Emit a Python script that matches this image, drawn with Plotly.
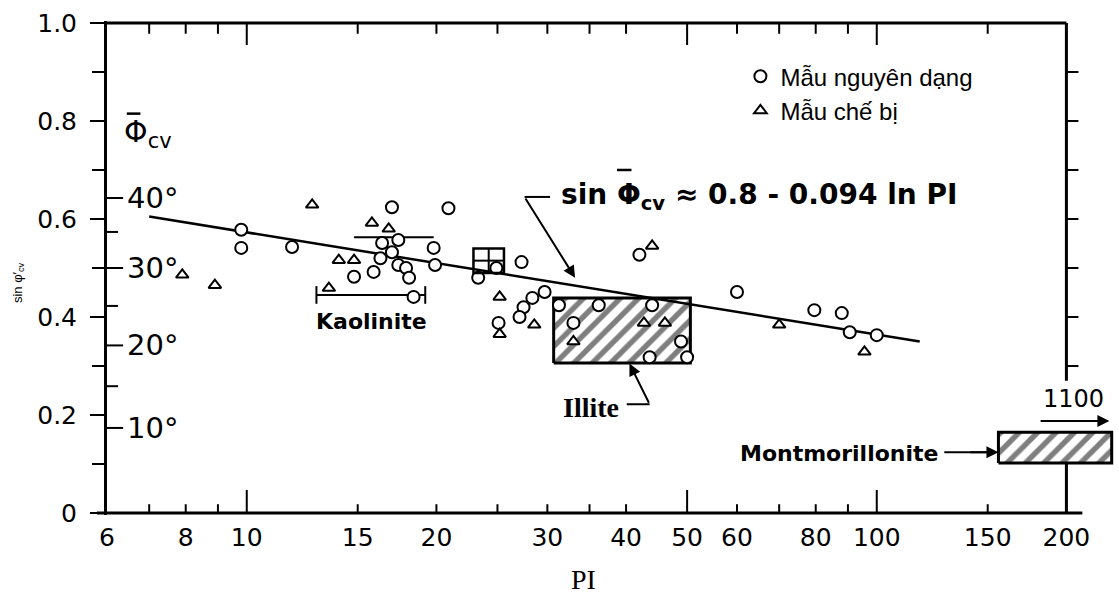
import numpy as np
import plotly.graph_objects as go

# ---------------- data ----------------
undisturbed_pi = [9.8, 9.8, 11.8, 17.0, 20.9, 16.4, 17.4, 17.0, 16.3, 17.4, 17.9, 18.1, 15.9, 14.8,
                  19.8, 19.9, 18.4, 23.3, 24.9, 27.3, 25.1, 29.7, 28.4, 27.5, 27.1, 31.3, 36.2, 33.0,
                  44.0, 48.9, 43.6, 50.0, 42.0, 60.0, 79.6, 88.0, 90.6, 100.0]
undisturbed_sin = [0.578, 0.541, 0.543, 0.624, 0.622, 0.551, 0.557, 0.532, 0.520, 0.506, 0.500, 0.480,
                   0.492, 0.482, 0.541, 0.506, 0.441, 0.480, 0.500, 0.512, 0.388, 0.451, 0.439, 0.420,
                   0.400, 0.424, 0.424, 0.388, 0.424, 0.350, 0.318, 0.318, 0.527, 0.451, 0.414, 0.408,
                   0.369, 0.363]
remoulded_pi = [7.9, 8.9, 12.7, 15.8, 16.8, 14.0, 14.8, 13.5, 25.2, 25.2, 28.6, 33.0, 42.7, 46.1,
                44.0, 70.0, 95.6]
remoulded_sin = [0.486, 0.465, 0.629, 0.592, 0.580, 0.516, 0.516, 0.459, 0.441, 0.365, 0.384, 0.350,
                 0.388, 0.388, 0.545, 0.384, 0.329]

fit_pi = [7.0, 117.0]
fit_sin = [0.605, 0.350]

kaolinite_pi = [12.9, 19.2]
kaolinite_sin = [0.445, 0.445]
kaolinite_upper_pi = [14.8, 19.8]
kaolinite_upper_sin = [0.563, 0.563]
grid_box_pi = [22.9, 25.6]
grid_box_sin = [0.49, 0.54]

illite_pi = [30.7, 50.6]
illite_sin = [0.306, 0.439]
mont_pi = [156.0, 236.0]
mont_sin = [0.102, 0.165]

x_tick_vals = [6, 8, 10, 15, 20, 30, 40, 50, 60, 80, 100, 150, 200]
x_tick_text = ["6", "8", "10", "15", "20", "30", "40", "50", "60", "80", "100", "150", "200"]
x_short_ticks = [7, 8, 9, 15, 20, 25, 30, 35, 40, 60, 70, 80, 90, 150]
x_long_ticks = [10, 50, 100]
y_tick_vals = [0, 0.2, 0.4, 0.6, 0.8, 1.0]
y_tick_text = ["0", "0.2", "0.4", "0.6", "0.8", "1.0"]
y_minor_vals = [0.1, 0.3, 0.5, 0.7, 0.9]
right_tick_vals = [0.3, 0.4, 0.5, 0.6, 0.7, 0.8, 0.9]
deg_major = [10, 20, 30, 40]
deg_minor = [15, 25, 35]

# ---------------- geometry helpers ----------------
X0, X1 = np.log10(6), np.log10(238)
Y0, Y1 = -0.004, 1.004
def xp(v):
    return (np.log10(v) - X0) / (X1 - X0)
def yp(v):
    return (v - Y0) / (Y1 - Y0)
lx = np.log10

fig = go.Figure()

# hatched boxes
def hatched_box(xs, ys, size):
    fig.add_trace(go.Scatter(
        x=[xs[0], xs[1], xs[1], xs[0], xs[0]], y=[ys[0], ys[0], ys[1], ys[1], ys[0]],
        mode="lines", fill="toself", line=dict(color="black", width=3),
        fillpattern=dict(shape="/", size=size, solidity=0.42, fgcolor="black", bgcolor="white"),
        fillcolor="white", showlegend=False, hoverinfo="skip"))

hatched_box(illite_pi, illite_sin, 13)
hatched_box(mont_pi, mont_sin, 13)

# fitted line
fig.add_trace(go.Scatter(x=fit_pi, y=fit_sin, mode="lines",
                         line=dict(color="black", width=2.5), showlegend=False, hoverinfo="skip"))

# kaolinite bars
fig.add_trace(go.Scatter(x=kaolinite_pi, y=kaolinite_sin, mode="lines",
                         line=dict(color="black", width=2), showlegend=False, hoverinfo="skip"))
fig.add_trace(go.Scatter(x=kaolinite_upper_pi, y=kaolinite_upper_sin, mode="lines",
                         line=dict(color="black", width=2), showlegend=False, hoverinfo="skip"))

# data points
fig.add_trace(go.Scatter(x=undisturbed_pi, y=undisturbed_sin, mode="markers",
                         name="Mẫu nguyên dạng", legendgroup="a",
                         marker=dict(symbol="circle", size=12, color="white",
                                     line=dict(color="black", width=2))))
fig.add_trace(go.Scatter(x=remoulded_pi, y=remoulded_sin, mode="markers",
                         name="Mẫu chế bị", legendgroup="b",
                         marker=dict(symbol="triangle-up", size=11, color="white",
                                     line=dict(color="black", width=2))))

shapes = []
def seg(x0, y0, x1, y1, w=2, xref="x", yref="y"):
    shapes.append(dict(type="line", xref=xref, yref=yref, x0=x0, y0=y0, x1=x1, y1=y1,
                       line=dict(color="black", width=w)))

# frame lines
seg(-0.01, yp(0), xp(212), yp(0), 3, "paper", "paper")
seg(0, yp(1.0), xp(200), yp(1.0), 3, "paper", "paper")
seg(200, 0.27, 200, 1.0, 3)
seg(200, 0.0, 200, mont_sin[0], 3)

# x ticks (bottom inward, top inward)
for v in x_short_ticks:
    seg(v, 0, v, 0.018, 2)
    seg(v, 1.0, v, 0.978, 2)
for v in x_long_ticks:
    seg(v, 0, v, 0.047, 2)
    seg(v, 1.0, v, 0.955, 2)
# right ticks
for v in right_tick_vals:
    seg(200, v, 200 * 1.045, v, 2)
# degree ticks (inside left axis)
for d in deg_major:
    s = np.sin(np.radians(d))
    seg(0, yp(s), 0.016, yp(s), 2, "paper", "paper")
for d in deg_minor:
    s = np.sin(np.radians(d))
    seg(0, yp(s), 0.011, yp(s), 2, "paper", "paper")

# kaolinite end caps
for v in kaolinite_pi:
    seg(v, kaolinite_sin[0] - 0.018, v, kaolinite_sin[0] + 0.018, 2)
# grid box near PI 24
shapes.append(dict(type="rect", xref="x", yref="y", x0=grid_box_pi[0], x1=grid_box_pi[1],
                   y0=grid_box_sin[0], y1=grid_box_sin[1], line=dict(color="black", width=2.5)))
seg(np.sqrt(grid_box_pi[0] * grid_box_pi[1]), grid_box_sin[0],
    np.sqrt(grid_box_pi[0] * grid_box_pi[1]), grid_box_sin[1], 2)
seg(grid_box_pi[0], np.mean(grid_box_sin), grid_box_pi[1], np.mean(grid_box_sin), 2)

# leader lines
seg(27.6, 0.645, 30.3, 0.645, 2)          # equation leader
seg(40.1, 0.222, 43.6, 0.222, 2)          # Illite leader
seg(128, 0.124, 150, 0.124, 2)            # Montmorillonite leader
seg(182, 0.188, 225, 0.188, 2)            # 1100 leader

# overbars on the phi symbols
seg(6.45, 0.815, 6.78, 0.815, 2.5)
seg(38.7, 0.700, 40.8, 0.700, 2.5)

ann = []
def arrow(x, y, ax, ay):
    ann.append(dict(x=lx(x), y=y, ax=lx(ax), ay=ay, xref="x", yref="y", axref="x", ayref="y",
                    text="", showarrow=True, arrowhead=2, arrowsize=1.2, arrowwidth=2,
                    arrowcolor="black"))

arrow(33.2, 0.48, 27.6, 0.645)
arrow(40.5, 0.305, 43.6, 0.222)
arrow(156, 0.124, 140, 0.124)
arrow(234, 0.188, 215, 0.188)

def text(x, y, t, size, xanchor="center", family="DejaVu Sans", xref="x", yref="y", angle=0):
    ann.append(dict(x=x, y=y, xref=xref, yref=yref, text=t, showarrow=False, xanchor=xanchor,
                    yanchor="middle", textangle=angle,
                    font=dict(family=family, size=size, color="black")))

text(lx(31.3), 0.645, "<b>sin Φ<sub>cv</sub> ≈ 0.8 - 0.094 ln PI</b>", 28, "left")
text(lx(15.8), 0.39, "<b>Kaolinite</b>", 22)
text(lx(35.2), 0.216, "<b>Illite</b>", 28, family="Liberation Serif")
text(lx(126), 0.122, "<b>Montmorillonite</b>", 22, "right")
text(lx(205), 0.232, "1100", 24)
text(0.015, yp(0.775), "Φ<sub>cv</sub>", 30, "left", xref="paper", yref="paper")
for d in deg_major:
    text(0.018, yp(np.sin(np.radians(d))), f"{d}°", 29, "left", xref="paper", yref="paper")
text(-0.088, yp(0.47), "sin φ′<sub>cv</sub>", 13, xref="paper", yref="paper", angle=-90,
     family="Liberation Sans")
text(xp(34.2), -0.13, "PI", 28, family="Liberation Serif", xref="paper", yref="paper")

fig.update_layout(
    width=1119, height=608,
    margin=dict(l=107, r=5, t=21, b=93),
    paper_bgcolor="white", plot_bgcolor="white",
    shapes=shapes, annotations=ann,
    showlegend=True,
    legend=dict(x=0.629, y=0.933, xanchor="left", yanchor="top", bgcolor="rgba(0,0,0,0)",
                font=dict(family="Liberation Sans", size=24, color="black"),
                tracegroupgap=0),
    xaxis=dict(type="log", range=[X0, X1], showgrid=False, zeroline=False, showline=False,
               tickmode="array", tickvals=x_tick_vals, ticktext=x_tick_text,
               ticks="", ticklabelstandoff=5,
               tickfont=dict(family="DejaVu Sans", size=25, color="black")),
    yaxis=dict(range=[Y0, Y1], showgrid=False, zeroline=False, showline=True,
               linecolor="black", linewidth=3,
               tickmode="array", tickvals=y_tick_vals, ticktext=y_tick_text,
               ticks="outside", ticklen=14, tickwidth=2, tickcolor="black",
               ticklabelstandoff=8,
               minor=dict(tickmode="array", tickvals=y_minor_vals, ticks="outside",
                          ticklen=12, tickwidth=2, tickcolor="black"),
               tickfont=dict(family="DejaVu Sans", size=25, color="black")),
)

fig.write_html("out.html")
